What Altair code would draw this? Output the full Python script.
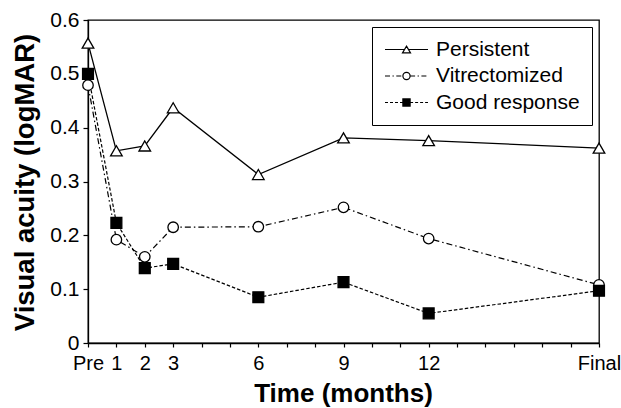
import altair as alt
import pandas as pd

# ---------------- data ----------------
months = [0, 1, 2, 3, 6, 9, 12, 18]
tick_labels = ["Pre", "1", "2", "3", "6", "9", "12", "Final"]
series_names = ["Persistent", "Vitrectomized", "Good response"]
persistent = [0.557, 0.357, 0.366, 0.437, 0.313, 0.381, 0.376, 0.362]
vitrectomized = [0.479, 0.192, 0.160, 0.215, 0.216, 0.252, 0.194, 0.108]
good_response = [0.500, 0.223, 0.139, 0.147, 0.085, 0.113, 0.055, 0.097]
y_ticks = [0, 0.1, 0.2, 0.3, 0.4, 0.5, 0.6]
month_ticks = list(range(0, 19))

rows = []
for name, vals in zip(series_names, [persistent, vitrectomized, good_response]):
    for m, v in zip(months, vals):
        rows.append({"series": name, "month": m, "acuity": v})
df = pd.DataFrame(rows)

# ---------------- styles ----------------
FONT = "Liberation Sans"
line_dash = {"Persistent": None, "Vitrectomized": [6, 3, 1.5, 3], "Good response": [3.5, 2]}
point_style = {
    "Persistent": ("triangle-up", "white", 135),
    "Vitrectomized": ("circle", "white", 110),
    "Good response": ("square", "black", 118),
}

label_expr = " : ".join(f"datum.value == {m} ? '{l}'" for m, l in zip(months, tick_labels)) + " : ''"

x_enc = alt.X(
    "month:Q",
    scale=alt.Scale(domain=[0, 18], nice=False, zero=False),
    axis=alt.Axis(
        values=month_ticks, labelExpr=label_expr, title="Time (months)",
        grid=False, labelOverlap=False, labelFlush=False, tickSize=4,
        labelPadding=6, labelFontSize=20, titleFontSize=26, titleFontWeight="bold",
        titleX=255, titleY=58, titleBaseline="alphabetic", titleAlign="center",
        domainWidth=1.3, tickWidth=1.2,
    ),
)
y_enc = alt.Y(
    "acuity:Q",
    scale=alt.Scale(domain=[0, 0.6], nice=False),
    axis=alt.Axis(
        values=y_ticks, format="~g", title="Visual acuity (logMAR)", grid=False,
        tickSize=5, labelPadding=4, labelFontSize=21, titleFontSize=27.5,
        titleFontWeight="bold", titleX=-55, titleY=162, titleAngle=270,
        titleBaseline="alphabetic", titleAlign="center",
        domainWidth=1.3, tickWidth=1.2,
    ),
)

layers = []
for name in series_names:
    kw = dict(color="black", strokeWidth=1.3)
    if line_dash[name]:
        kw["strokeDash"] = line_dash[name]
        kw["strokeWidth"] = 1.2
    layers.append(
        alt.Chart(df).transform_filter(alt.datum.series == name)
        .mark_line(**kw).encode(x=x_enc, y=y_enc)
    )
for name in series_names:
    shp, fll, sz = point_style[name]
    layers.append(
        alt.Chart(df).transform_filter(alt.datum.series == name)
        .mark_point(shape=shp, filled=True, fill=fll, stroke="black",
                    strokeWidth=1.3, size=sz, opacity=1)
        .encode(x=x_enc, y=y_enc)
    )

# ---------------- legend symbols (line + marker as path) ----------------
R = 8.0  # px per path unit for symbolSize 256
L = 21.5 / R


def seg_path(x0, x1, pattern):
    if not pattern:
        return f"M{x0:.3f},0H{x1:.3f}"
    out = []
    x = x0
    i = 0
    while x < x1 - 1e-6:
        ln = pattern[i % len(pattern)] / R
        if i % 2 == 0:
            out.append(f"M{x:.3f},0H{min(x + ln, x1):.3f}")
        x += ln
        i += 1
    return "".join(out)


def side_paths(edge, pattern):
    return seg_path(-L, -edge, pattern) + seg_path(edge, L, pattern)


tri = "M0,-0.42L0.5,0.42L-0.5,0.42Z"
circ = "M0.45,0A0.45,0.45 0 1,1 -0.45,0A0.45,0.45 0 1,1 0.45,0Z"
sq = "M-0.45,-0.45H0.45V0.45H-0.45Z"
legend_paths = [
    side_paths(0.25, None) + tri,
    side_paths(0.45, [5, 2.5, 1.3, 2.5]) + circ,
    side_paths(0.45, [3, 2]) + sq,
]

leg = alt.Legend(
    title=None, orient="none", legendX=284, legendY=7, symbolSize=256,
    symbolOffset=12, labelOffset=19, padding=12, rowPadding=4.5,
    strokeColor="black", fillColor="white", cornerRadius=0,
    labelFontSize=21, labelFont=FONT, labelColor="black",
    symbolStrokeColor="black", symbolStrokeWidth=1.2, symbolOpacity=1,
    direction="vertical",
)

legend_layer = (
    alt.Chart(df).transform_filter("datum.month < 0")
    .mark_point(filled=True, stroke="black", strokeWidth=1.2, opacity=1)
    .encode(
        x=x_enc, y=y_enc,
        shape=alt.Shape("series:N", scale=alt.Scale(domain=series_names, range=legend_paths), legend=leg),
        fill=alt.Fill("series:N", scale=alt.Scale(domain=series_names, range=["white", "white", "black"]), legend=leg),
        stroke=alt.Stroke("series:N", scale=alt.Scale(domain=series_names, range=["black", "black", "black"]), legend=leg),
    )
)
layers.append(legend_layer)

chart = (
    alt.layer(*layers)
    .properties(width=511, height=323, autosize=alt.AutoSizeParams(type="none"),
                padding={"left": 88, "top": 20, "right": 22, "bottom": 65},
                background="white")
    .configure_view(stroke="black", strokeWidth=1.3)
    .configure_axis(labelFont=FONT, titleFont=FONT, labelColor="black", titleColor="black",
                    domainColor="black", tickColor="black")
)

chart.save("out.html", embed_options={"renderer": "svg", "actions": False})
